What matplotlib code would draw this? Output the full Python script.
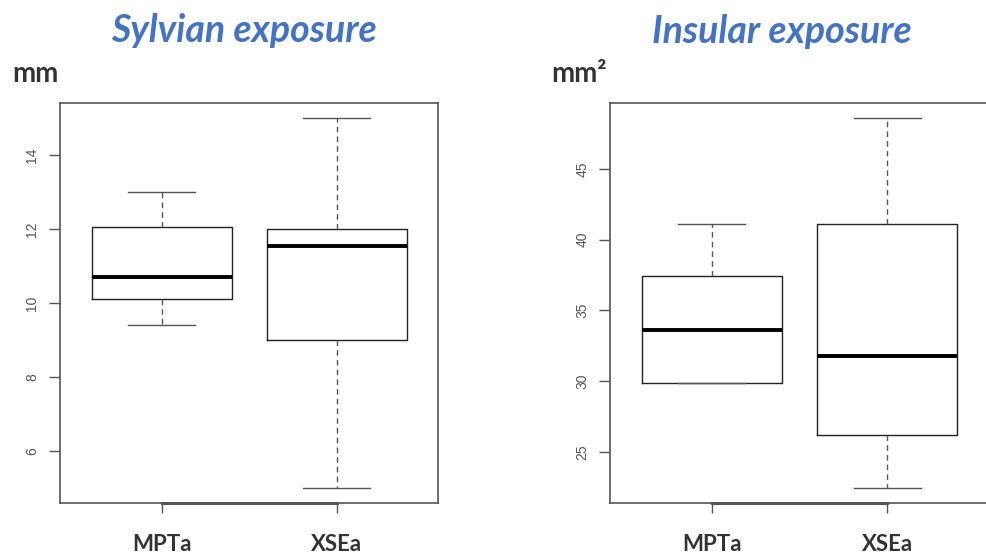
import matplotlib.pyplot as plt

groups = ["MPTa", "XSEa"]

# Sylvian exposure (mm): five-number summaries
syl_whislo = [9.4, 5.0]
syl_q1 = [10.1, 9.0]
syl_med = [10.7, 11.55]
syl_q3 = [12.05, 12.0]
syl_whishi = [13.0, 15.0]
syl_ticks = [6, 8, 10, 12, 14]

# Insular exposure (mm2)
ins_whislo = [29.9, 22.45]
ins_q1 = [29.9, 26.2]
ins_med = [33.65, 31.8]
ins_q3 = [37.4, 41.1]
ins_whishi = [41.1, 48.6]
ins_ticks = [25, 30, 35, 40, 45]

blue = "#4472C4"
dark = "#333333"
grey = "#555555"


def stats(lo, q1, med, q3, hi):
    out = []
    for i in range(len(groups)):
        out.append(dict(whislo=lo[i], q1=q1[i], med=med[i], q3=q3[i],
                        whishi=hi[i], fliers=[], label=groups[i]))
    return out


def rbox(ax, st, ticks):
    lo = min(s["whislo"] for s in st)
    hi = max(s["whishi"] for s in st)
    pad = (hi - lo) * 0.04
    ax.bxp(st, positions=[1, 2], widths=0.8, showfliers=False,
           boxprops=dict(color="#222222", lw=1.0),
           medianprops=dict(color="black", lw=2.8),
           whiskerprops=dict(color=grey, lw=1.0, ls=(0, (4, 3))),
           capprops=dict(color=grey, lw=1.0), capwidths=0.38)
    ax.set_ylim(lo - pad, hi + pad)
    ax.set_xlim(0.42, 2.58)
    ax.set_yticks(ticks)
    ax.set_yticklabels([str(t) for t in ticks], rotation=90, va="center",
                       color=grey, fontsize=10, family="Liberation Sans")
    ax.tick_params(axis="y", length=8, width=1, color=grey, pad=7)
    ax.set_xticks([1, 2])
    ax.set_xticklabels(groups, fontsize=16, fontweight="bold", color=dark,
                       family="Lato")
    ax.tick_params(axis="x", length=7, width=1, color=grey, pad=15)
    for s in ax.spines.values():
        s.set_color(grey)
        s.set_linewidth(1.2)
    # R style axis line between the outer ticks
    ax.plot([1, 2], [lo - pad, lo - pad], color=grey, lw=2.2,
            clip_on=False, zorder=5)


fig = plt.figure(figsize=(9.87, 5.54), dpi=100)
ax1 = fig.add_axes([0.0608, 0.092, 0.383, 0.722])
ax2 = fig.add_axes([0.618, 0.092, 0.384, 0.722])

rbox(ax1, stats(syl_whislo, syl_q1, syl_med, syl_q3, syl_whishi), syl_ticks)
rbox(ax2, stats(ins_whislo, ins_q1, ins_med, ins_q3, ins_whishi), ins_ticks)

title_kw = dict(color=blue, fontsize=27, fontweight="bold", style="italic",
                family="Lato", ha="center", va="baseline")
fig.text(0.247, 0.924, "Sylvian exposure", **title_kw)
fig.text(0.792, 0.922, "Insular exposure", **title_kw)

unit_kw = dict(fontsize=20, fontweight="bold", color=dark, family="Lato",
               va="baseline")
fig.text(0.012, 0.852, "mm", **unit_kw)
fig.text(0.559, 0.852, "mm²", **unit_kw)

fig.savefig("out.png", dpi=100)
